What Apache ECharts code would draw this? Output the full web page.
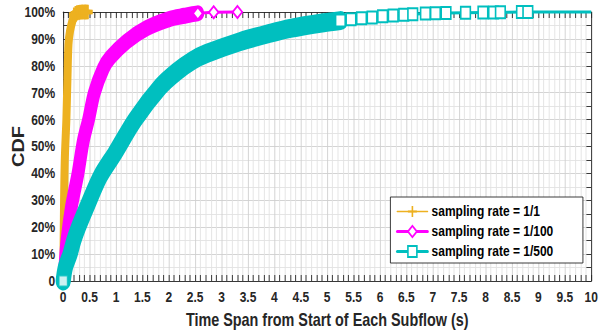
<!DOCTYPE html>
<html><head><meta charset="utf-8">
<script src="https://cdn.jsdelivr.net/npm/echarts@6/dist/echarts.min.js"></script>
<style>
html,body{margin:0;padding:0;background:#fff;overflow:hidden;}
#wrap{width:608px;height:334px;overflow:hidden;}
#chart{width:760px;height:334px;transform:scaleX(0.8);transform-origin:0 0;}
</style></head>
<body><div id="wrap"><div id="chart"></div></div>
<script>
// ---- data ----
const seriesNames = ['sampling rate = 1/1', 'sampling rate = 1/100', 'sampling rate = 1/500'];
const seriesColors = ['#EDB120', '#FF00FF', '#00BFBF'];

// sampling rate = 1/1
const rate1Time = [0, 0.01, 0.03, 0.06, 0.08, 0.10, 0.13, 0.18, 0.22];
const rate1Cdf  = [0, 20, 45, 60, 75, 88, 93, 97, 99];
const rate1TailTime = [0.22, 0.25, 0.28, 0.31, 0.34, 0.37, 0.40, 0.43, 0.45];
const rate1TailCdf  = [99, 99.5, 99.8, 99.9, 100, 100, 100, 100, 100];

// sampling rate = 1/100
const rate100Time = [0, 0.03, 0.07, 0.16, 0.28, 0.38, 0.48, 0.59, 0.76, 0.89, 1.20, 1.58, 2.03, 2.30, 2.45, 2.55];
const rate100Cdf  = [0, 5, 15, 28, 40, 52, 60, 70, 79, 83, 89, 94, 97.5, 98.6, 99.2, 99.5];
const rate100TailTime = [2.55, 2.85, 3.30];
const rate100TailCdf  = [99.5, 99.9, 100];

// sampling rate = 1/500
const rate500Time = [0, 0.04, 0.13, 0.20, 0.29, 0.45, 0.70, 0.98, 1.36, 1.84, 2.15, 2.45, 2.72, 3.35, 3.92, 4.30, 4.93, 5.25];
const rate500Cdf  = [0, 5, 10, 15, 20, 27.6, 38.8, 47.5, 59.9, 72.2, 77.8, 82, 84.6, 89, 92.1, 93.9, 96, 96.8];
const rate500TailTime = [5.25, 5.45, 5.65, 5.85, 6.05, 6.25, 6.45, 6.62, 6.86, 7.05, 7.25, 7.62, 7.95, 8.15, 8.28, 8.68, 8.80, 10];
const rate500TailCdf  = [96.8, 97.3, 97.7, 98.0, 98.4, 98.7, 99.0, 99.2, 99.4, 99.5, 99.6, 99.7, 99.8, 99.85, 99.9, 100, 100, 100];

const xTickInterval = 0.5;
const yTickInterval = 10;

// ---- chart ----
const zip = (xs, ys) => xs.map((x, i) => [x, ys[i]]);
const FONT = "'Liberation Sans', Arial, sans-serif";
const AX = '#262626';
const plusPath = 'path://M4.1,0h1.8v10h-1.8zM0,4.1h10v1.8h-10z';
const symbols = [plusPath, 'emptyDiamond', 'emptyRect'];
const bandWidths = [10, 16, 19];
const mains = [[rate1Time, rate1Cdf], [rate100Time, rate100Cdf], [rate500Time, rate500Cdf]];
const tails = [[rate1TailTime, rate1TailCdf], [rate100TailTime, rate100TailCdf], [rate500TailTime, rate500TailCdf]];

const series = [];
for (let i = 0; i < 3; i++) {
  series.push({
    name: seriesNames[i], type: 'line', xAxisIndex: 0, yAxisIndex: 0,
    data: zip(mains[i][0], mains[i][1]),
    symbol: symbols[i], showSymbol: false, smooth: 0.3, clip: false,
    lineStyle: { color: seriesColors[i], width: bandWidths[i], cap: 'round', join: 'round' },
    itemStyle: { color: seriesColors[i], borderWidth: 2 },
    animation: false, z: 2 + i
  });
  const tailData = zip(tails[i][0], tails[i][1]).map((p, k, arr) =>
    (i === 2 && k === arr.length - 1) ? { value: p, symbol: 'none' } : { value: p });
  series.push({
    name: 'tail ' + seriesNames[i], type: 'line', xAxisIndex: 0, yAxisIndex: 0,
    data: tailData, symbol: symbols[i], symbolSize: 12, showSymbol: true, clip: false,
    lineStyle: { color: seriesColors[i], width: i === 0 ? 2 : 3 },
    itemStyle: { color: seriesColors[i], borderColor: seriesColors[i], borderWidth: 2.5 },
    animation: false, z: 2 + i
  });
  series.push({
    name: 'start ' + seriesNames[i], type: 'scatter', xAxisIndex: 0, yAxisIndex: 0,
    data: [[mains[i][0][0], mains[i][1][0]]], symbol: symbols[i], symbolSize: 11, clip: false,
    itemStyle: { color: seriesColors[i], borderColor: seriesColors[i], borderWidth: 2.5 },
    animation: false, z: 2 + i
  });
}

const tickCommon = {
  axisLine: { show: true, onZero: false, lineStyle: { color: AX, width: 1 } },
  axisTick: { show: true, inside: true, length: 6, lineStyle: { color: AX, width: 1 } }
};

const option = {
  backgroundColor: '#fff',
  animation: false,
  grid: { left: 79, right: 21, top: 12, bottom: 53, containLabel: false, outerBoundsMode: 'none' },
  legend: {
    orient: 'vertical', left: 488, top: 197,
    data: [
      { name: seriesNames[0], lineStyle: { width: 1.5 } },
      { name: seriesNames[1], lineStyle: { width: 3 } },
      { name: seriesNames[2], lineStyle: { width: 3 } }
    ],
    itemWidth: 38, itemHeight: 14, itemGap: 5,
    padding: [7, 37, 4, 7],
    backgroundColor: '#fff', borderColor: AX, borderWidth: 1, borderRadius: 0,
    selectedMode: false,
    textStyle: { fontFamily: FONT, fontWeight: 'bold', fontSize: 15, color: '#000', lineHeight: 15 }
  },
  xAxis: [
    Object.assign({
      type: 'value', position: 'bottom', min: 0, max: 10, interval: xTickInterval,
      minorTick: { show: true, splitNumber: 5, length: 6, lineStyle: { color: AX } },
      splitLine: { show: true, lineStyle: { color: '#cfcfcf', width: 1 } },
      minorSplitLine: { show: true, lineStyle: { color: '#e2e2e2', width: 1 } },
      axisLabel: { fontFamily: FONT, fontWeight: 'bold', fontSize: 15, color: AX, margin: 9 },
      name: 'Time Span from Start of Each Subflow (s)', nameLocation: 'middle', nameGap: 29,
      nameMoveOverlap: false,
      nameTextStyle: { fontFamily: FONT, fontWeight: 'bold', fontSize: 18, color: AX }
    }, tickCommon),
    Object.assign({
      type: 'value', position: 'top', min: 0, max: 10, interval: xTickInterval,
      minorTick: { show: true, splitNumber: 5, length: 6, lineStyle: { color: AX } },
      splitLine: { show: false }, axisLabel: { show: false }
    }, tickCommon)
  ],
  yAxis: [
    Object.assign({
      type: 'value', position: 'left', min: 0, max: 100, interval: yTickInterval,
      minorTick: { show: true, splitNumber: 2, length: 6, lineStyle: { color: AX } },
      splitLine: { show: true, lineStyle: { color: '#cfcfcf', width: 1 } },
      minorSplitLine: { show: true, lineStyle: { color: '#e2e2e2', width: 1 } },
      axisLabel: { fontFamily: FONT, fontWeight: 'bold', fontSize: 15, color: AX, margin: 10,
        formatter: v => v === 0 ? '0' : v + '%' },
      name: 'CDF', nameLocation: 'middle', nameRotate: 90, nameGap: 46,
      nameMoveOverlap: false,
      nameTextStyle: { fontFamily: FONT, fontWeight: 'bold', fontSize: 20, color: AX }
    }, tickCommon),
    Object.assign({
      type: 'value', position: 'right', min: 0, max: 100, interval: yTickInterval,
      minorTick: { show: true, splitNumber: 2, length: 6, lineStyle: { color: AX } },
      splitLine: { show: false }, axisLabel: { show: false }
    }, tickCommon)
  ],
  series: series
};

const chart = echarts.init(document.getElementById('chart'), null, { renderer: 'svg' });
chart.setOption(option);
</script>
</body></html>
